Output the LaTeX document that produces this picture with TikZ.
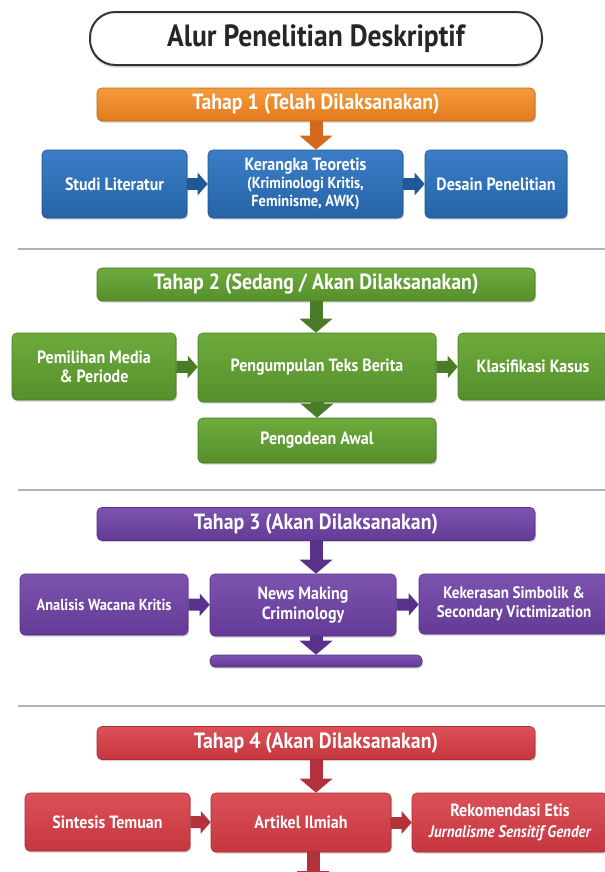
\documentclass[tikz,border=0pt]{standalone}
\usepackage{fontspec}
\setmainfont{PT Sans}
\newfontfamily\diafont[FakeStretch=0.9]{PT Sans}
\usetikzlibrary{arrows.meta,shadows}
\definecolor{titleline}{HTML}{333333}
\definecolor{orangetop}{HTML}{F49B3C}
\definecolor{orangebot}{HTML}{E27A1C}
\definecolor{orangearr}{HTML}{D2691F}
\definecolor{bluetop}{HTML}{3B7EC6}
\definecolor{bluebot}{HTML}{2663A7}
\definecolor{bluearr}{HTML}{1F5A96}
\definecolor{greentop}{HTML}{6DAB3D}
\definecolor{greenbot}{HTML}{568F2B}
\definecolor{greenarr}{HTML}{4A7B26}
\definecolor{purpletop}{HTML}{7C53AF}
\definecolor{purplebot}{HTML}{633B96}
\definecolor{purplearr}{HTML}{58318A}
\definecolor{redtop}{HTML}{DC5158}
\definecolor{redbot}{HTML}{C5363F}
\definecolor{redarr}{HTML}{B3313A}
\tikzset{
  card/.style={rounded corners=3.5pt, text=white, align=center, inner sep=2pt,
    font=\diafont\bfseries\fontsize{13.3}{15.5}\selectfont,
    drop shadow={opacity=0.35, shadow xshift=0.8pt, shadow yshift=-1.2pt}},
  stagehead/.style={card, minimum width=328.5pt, minimum height=24.75pt,
    font=\diafont\bfseries\fontsize{16.5}{18}\selectfont},
  orangecard/.style={top color=orangetop, bottom color=orangebot, draw=orangebot!85!black},
  bluecard/.style={top color=bluetop, bottom color=bluebot, draw=bluebot!85!black},
  greencard/.style={top color=greentop, bottom color=greenbot, draw=greenbot!85!black},
  purplecard/.style={top color=purpletop, bottom color=purplebot, draw=purplebot!85!black},
  redcard/.style={top color=redtop, bottom color=redbot, draw=redbot!85!black},
  downarrow/.style={-{Triangle[width=24pt,length=10.5pt]}, line width=9.75pt},
  sidearrow/.style={-{Triangle[width=16.5pt,length=7.5pt]}, line width=9pt},
  sepline/.style={draw=gray!60, line width=0.9pt}
}
\begin{document}
\begin{tikzpicture}[x=0.75pt, y=-0.75pt]
\useasboundingbox[fill=white] (0,0) rectangle (605,872);

\node[draw=titleline, line width=1.5pt, rounded corners=19pt, fill=white,
  minimum width=339pt, minimum height=39.75pt, text=black!85,
  font=\diafont\bfseries\fontsize{23}{27}\selectfont,
  drop shadow={opacity=0.3, shadow xshift=0pt, shadow yshift=-2pt}]
  (title) at (316,38.5) {Alur Penelitian Deskriptif};

% tahap 1
\node[stagehead, orangecard] (h1) at (316,104.5) {Tahap 1 (Telah Dilaksanakan)};
\node[card, bluecard, minimum width=108.75pt, minimum height=51pt] (s1) at (114.5,184) {Studi Literatur};
\node[card, bluecard, minimum width=146.25pt, minimum height=51pt] (k1) at (305.5,184)
  {Kerangka Teoretis\\[-2pt]{\fontsize{12}{13.5}\selectfont(Kriminologi Kritis,}\\[-2pt]{\fontsize{12}{13.5}\selectfont Feminisme, AWK)}};
\node[card, bluecard, minimum width=106.5pt, minimum height=51pt] (d1) at (496,184) {Desain Penelitian};
\draw[downarrow, orangearr] (h1.south) -- (h1.south |- k1.north);
\draw[sidearrow, bluearr] (s1) -- (k1);
\draw[sidearrow, bluearr] (k1) -- (d1);

\draw[sepline] (18,249) -- (605,249);

% tahap 2
\node[stagehead, greencard] (h2) at (316,284.5) {Tahap 2 (Sedang / Akan Dilaksanakan)};
\node[card, greencard, minimum width=123pt, minimum height=50.25pt] (p2) at (94,366.5) {Pemilihan Media\\[-1pt]\& Periode};
\node[card, greencard, minimum width=178.5pt, minimum height=51.75pt] (g2) at (317,367.5) {Pengumpulan Teks Berita};
\node[card, greencard, minimum width=112.5pt, minimum height=50.25pt] (c2) at (533,366.5) {Klasifikasi Kasus};
\node[card, greencard, minimum width=178.5pt, minimum height=33.75pt] (o2) at (317,440.5) {Pengodean Awal};
\draw[downarrow, greenarr] (h2.south) -- (h2.south |- g2.north);
\draw[sidearrow, greenarr] (p2) -- (g2);
\draw[sidearrow, greenarr] (g2) -- (c2);
\draw[downarrow, greenarr] (g2) -- (o2);

\draw[sepline] (18,490) -- (605,490);

% tahap 3
\node[stagehead, purplecard] (h3) at (316,524) {Tahap 3 (Akan Dilaksanakan)};
\node[card, purplecard, minimum width=126pt, minimum height=45.75pt,
  font=\diafont\bfseries\fontsize{12}{14}\selectfont] (a3) at (104,604.5) {Analisis Wacana Kritis};
\node[card, purplecard, minimum width=139.5pt, minimum height=46.5pt] (n3) at (303,605) {News Making\\[-1pt]Criminology};
\node[card, purplecard, minimum width=142.5pt, minimum height=45pt,
  font=\diafont\bfseries\fontsize{12.5}{14.5}\selectfont] (v3) at (514,604) {Kekerasan Simbolik \&\\Secondary Victimization};
\node[card, purplecard, minimum width=159pt, minimum height=9pt, inner sep=0pt] (b3) at (316,661) {};
\draw[downarrow, purplearr] (h3.south) -- (h3.south |- n3.north);
\draw[sidearrow, purplearr] (a3) -- (n3);
\draw[sidearrow, purplearr] (n3) -- (v3);
\draw[downarrow, purplearr] (b3.north |- n3.south) -- (b3.north);

\draw[sepline] (18,706) -- (605,706);

% tahap 4
\node[stagehead, redcard] (h4) at (316,743) {Tahap 4 (Akan Dilaksanakan)};
\node[card, redcard, minimum width=123.75pt, minimum height=43.5pt] (t4) at (107.5,822) {Sintesis Temuan};
\node[card, redcard, minimum width=135pt, minimum height=44.25pt] (r4) at (301,822.5) {Artikel Ilmiah};
\node[card, redcard, minimum width=147pt, minimum height=44.25pt] (e4) at (510,822.5)
  {Rekomendasi Etis\\{\itshape\fontsize{12.5}{14}\selectfont Jurnalisme Sensitif Gender}};
\coordinate (end4) at (313,885);
\draw[downarrow, redarr] (h4.south) -- (h4.south |- r4.north);
\draw[sidearrow, redarr] (t4) -- (r4);
\draw[sidearrow, redarr] (r4) -- (e4);
\draw[downarrow, redarr] (r4.south -| end4) -- (end4);
\end{tikzpicture}
\end{document}
